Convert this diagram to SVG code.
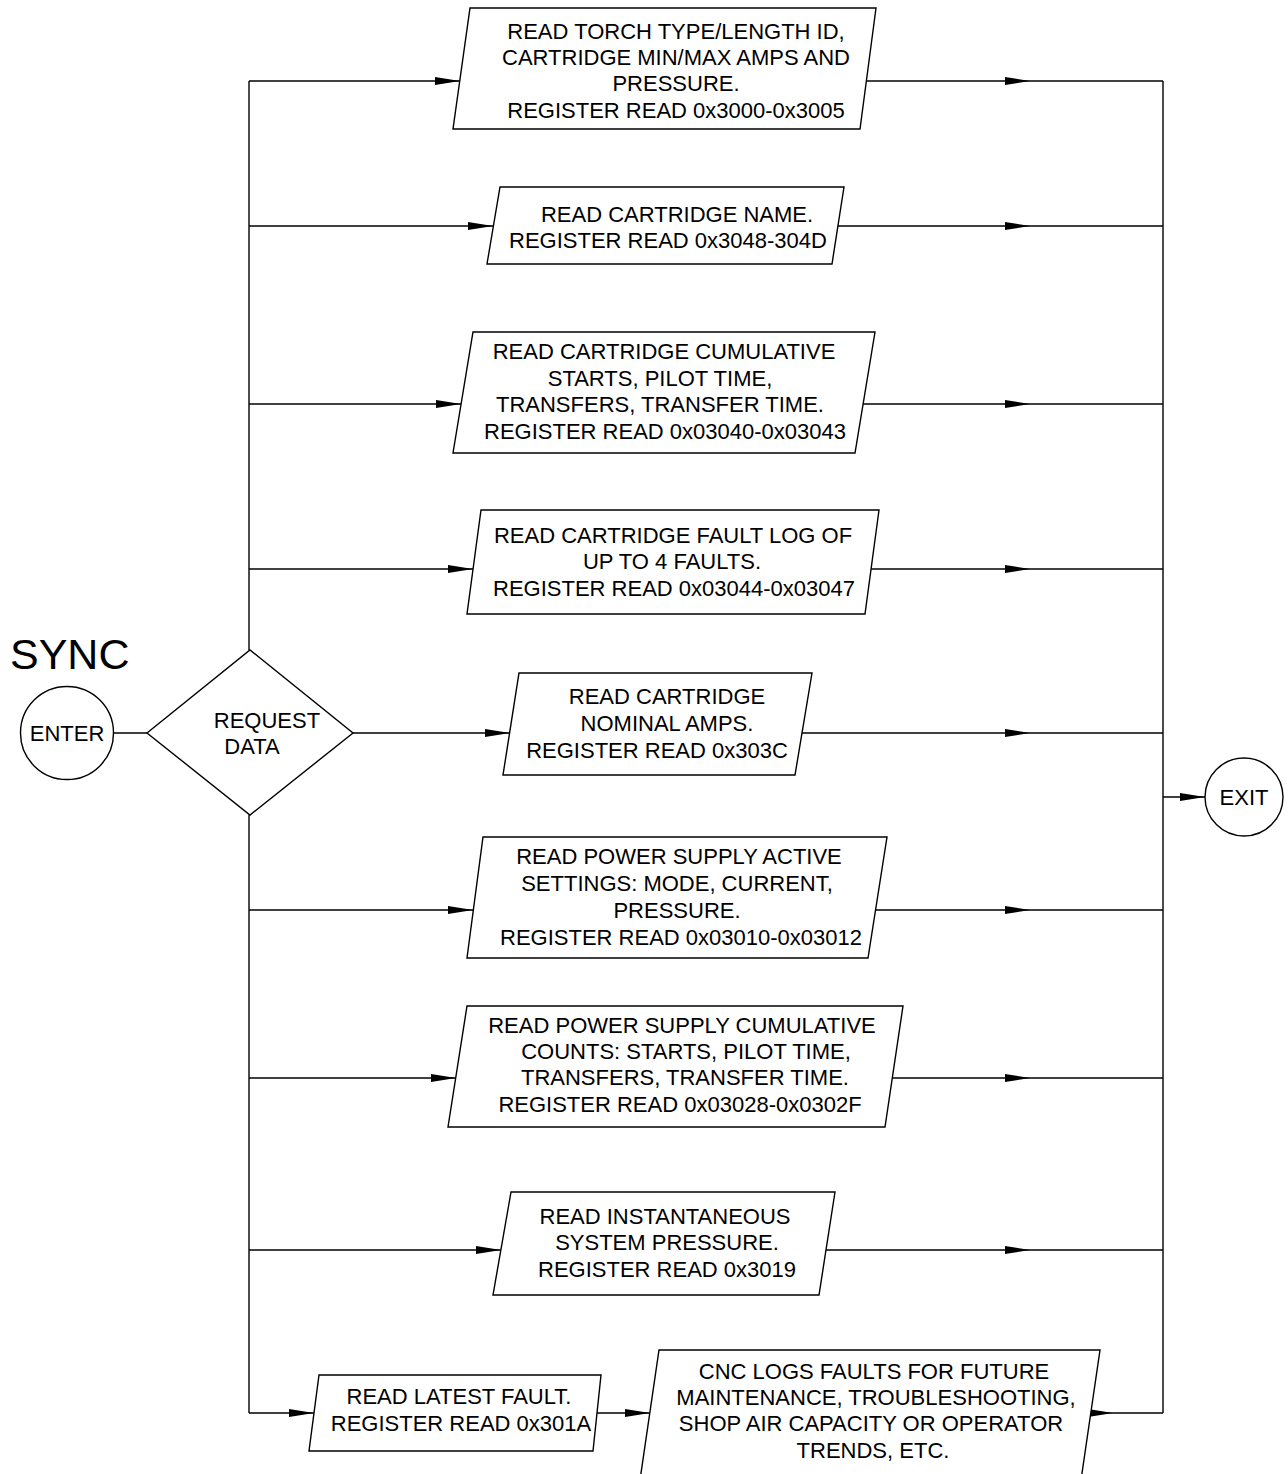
<svg xmlns="http://www.w3.org/2000/svg" width="1288" height="1474" viewBox="0 0 1288 1474">
  <style>
    .shape { fill: #ffffff; stroke: #000000; stroke-width: 1.4; }
    .wire { fill: none; stroke: #000000; stroke-width: 1.4; }
    .lbl { font-family: "Liberation Sans", Arial, sans-serif; font-size: 22px; fill: #000000; text-anchor: middle; }
    .title { font-family: "Liberation Sans", Arial, sans-serif; font-size: 43px; fill: #000000; }
  </style>
  <defs>
    <marker id="arrow" markerUnits="userSpaceOnUse" markerWidth="25" markerHeight="8" refX="25" refY="4" orient="auto">
      <path d="M0,0 L25,4 L0,8 Z" fill="#000000"/>
    </marker>
  </defs>
  <rect width="1288" height="1474" fill="#ffffff"/>

  <text class="title" x="10" y="669">SYNC</text>

  <!-- connectors -->
  <g id="connectors">
    <!-- enter to decision -->
    <path class="wire" d="M114,733 H147"/>
    <!-- left bus -->
    <path class="wire" d="M249,650 V81"/>
    <path class="wire" d="M249,815 V1413"/>
    <!-- right bus -->
    <path class="wire" d="M1163,81 V1413"/>
    <!-- branches into each read step -->
    <path class="wire" d="M249,81 H460" marker-end="url(#arrow)"/>
    <path class="wire" d="M249,226 H493" marker-end="url(#arrow)"/>
    <path class="wire" d="M249,404 H461" marker-end="url(#arrow)"/>
    <path class="wire" d="M249,569 H473" marker-end="url(#arrow)"/>
    <path class="wire" d="M353,733 H510" marker-end="url(#arrow)"/>
    <path class="wire" d="M249,910 H473" marker-end="url(#arrow)"/>
    <path class="wire" d="M249,1078 H456" marker-end="url(#arrow)"/>
    <path class="wire" d="M249,1250 H501" marker-end="url(#arrow)"/>
    <path class="wire" d="M249,1413 H314" marker-end="url(#arrow)"/>
    <path class="wire" d="M597,1413 H650" marker-end="url(#arrow)"/>
    <!-- outputs to right bus -->
    <path class="wire" d="M866,81 H1030" marker-end="url(#arrow)"/><path class="wire" d="M1030,81 H1163"/>
    <path class="wire" d="M838,226 H1030" marker-end="url(#arrow)"/><path class="wire" d="M1030,226 H1163"/>
    <path class="wire" d="M863,404 H1030" marker-end="url(#arrow)"/><path class="wire" d="M1030,404 H1163"/>
    <path class="wire" d="M871,569 H1030" marker-end="url(#arrow)"/><path class="wire" d="M1030,569 H1163"/>
    <path class="wire" d="M802,733 H1030" marker-end="url(#arrow)"/><path class="wire" d="M1030,733 H1163"/>
    <path class="wire" d="M875,910 H1030" marker-end="url(#arrow)"/><path class="wire" d="M1030,910 H1163"/>
    <path class="wire" d="M892,1078 H1030" marker-end="url(#arrow)"/><path class="wire" d="M1030,1078 H1163"/>
    <path class="wire" d="M826,1250 H1030" marker-end="url(#arrow)"/><path class="wire" d="M1030,1250 H1163"/>
    <path class="wire" d="M1091,1413 H1113" marker-end="url(#arrow)"/><path class="wire" d="M1113,1413 H1163"/>
    <!-- bus to exit -->
    <path class="wire" d="M1163,797 H1205" marker-end="url(#arrow)"/>
  </g>

  <g id="enter">
    <circle class="shape" cx="67" cy="733" r="46.5"/>
    <text class="lbl" x="67" y="741">ENTER</text>
  </g>

  <g id="request-data">
    <polygon class="shape" points="147,733 250,650 353,733 250,815"/>
    <text class="lbl" x="267" y="728">REQUEST</text>
    <text class="lbl" x="252" y="754">DATA</text>
  </g>

  <g id="exit">
    <circle class="shape" cx="1244" cy="797" r="39"/>
    <text class="lbl" x="1244" y="805">EXIT</text>
  </g>

  <g id="read-torch">
    <polygon class="shape" points="470,8 876,8 860,129 453,129"/>
    <text class="lbl" x="676" y="39">READ TORCH TYPE/LENGTH ID,</text>
    <text class="lbl" x="676" y="65">CARTRIDGE MIN/MAX AMPS AND</text>
    <text class="lbl" x="676" y="91">PRESSURE.</text>
    <text class="lbl" x="676" y="118">REGISTER READ 0x3000-0x3005</text>
  </g>

  <g id="read-cartridge-name">
    <polygon class="shape" points="500,187 844,187 832,264 487,264"/>
    <text class="lbl" x="677" y="222">READ CARTRIDGE NAME.</text>
    <text class="lbl" x="668" y="248">REGISTER READ 0x3048-304D</text>
  </g>

  <g id="read-cartridge-cumulative">
    <polygon class="shape" points="473,332 875,332 855,453 453,453"/>
    <text class="lbl" x="664" y="359">READ CARTRIDGE CUMULATIVE</text>
    <text class="lbl" x="660" y="386">STARTS, PILOT TIME,</text>
    <text class="lbl" x="660" y="412">TRANSFERS, TRANSFER TIME.</text>
    <text class="lbl" x="665" y="439">REGISTER READ 0x03040-0x03043</text>
  </g>

  <g id="read-cartridge-faults">
    <polygon class="shape" points="481,510 879,510 865,614 467,614"/>
    <text class="lbl" x="673" y="543">READ CARTRIDGE FAULT LOG OF</text>
    <text class="lbl" x="672" y="569">UP TO 4 FAULTS.</text>
    <text class="lbl" x="674" y="596">REGISTER READ 0x03044-0x03047</text>
  </g>

  <g id="read-nominal-amps">
    <polygon class="shape" points="519,673 812,673 795,775 503,775"/>
    <text class="lbl" x="667" y="704">READ CARTRIDGE</text>
    <text class="lbl" x="667" y="731">NOMINAL AMPS.</text>
    <text class="lbl" x="657" y="758">REGISTER READ 0x303C</text>
  </g>

  <g id="read-active-settings">
    <polygon class="shape" points="483,837 887,837 868,958 467,958"/>
    <text class="lbl" x="679" y="864">READ POWER SUPPLY ACTIVE</text>
    <text class="lbl" x="677" y="891">SETTINGS: MODE, CURRENT,</text>
    <text class="lbl" x="677" y="918">PRESSURE.</text>
    <text class="lbl" x="681" y="945">REGISTER READ 0x03010-0x03012</text>
  </g>

  <g id="read-supply-cumulative">
    <polygon class="shape" points="467,1006 903,1006 885,1127 448,1127"/>
    <text class="lbl" x="682" y="1033">READ POWER SUPPLY CUMULATIVE</text>
    <text class="lbl" x="686" y="1059">COUNTS: STARTS, PILOT TIME,</text>
    <text class="lbl" x="685" y="1085">TRANSFERS, TRANSFER TIME.</text>
    <text class="lbl" x="680" y="1112">REGISTER READ 0x03028-0x0302F</text>
  </g>

  <g id="read-pressure">
    <polygon class="shape" points="511,1192 835,1192 819,1295 493,1295"/>
    <text class="lbl" x="665" y="1224">READ INSTANTANEOUS</text>
    <text class="lbl" x="667" y="1250">SYSTEM PRESSURE.</text>
    <text class="lbl" x="667" y="1277">REGISTER READ 0x3019</text>
  </g>

  <g id="read-latest-fault">
    <polygon class="shape" points="319,1375 601,1375 593,1451 309,1451"/>
    <text class="lbl" x="459" y="1404">READ LATEST FAULT.</text>
    <text class="lbl" x="461" y="1431">REGISTER READ 0x301A</text>
  </g>

  <g id="cnc-logs">
    <polygon class="shape" points="659,1350 1100,1350 1081,1480 640,1480"/>
    <text class="lbl" x="874" y="1379">CNC LOGS FAULTS FOR FUTURE</text>
    <text class="lbl" x="876" y="1405">MAINTENANCE, TROUBLESHOOTING,</text>
    <text class="lbl" x="871" y="1431">SHOP AIR CAPACITY OR OPERATOR</text>
    <text class="lbl" x="873" y="1458">TRENDS, ETC.</text>
  </g>
</svg>
